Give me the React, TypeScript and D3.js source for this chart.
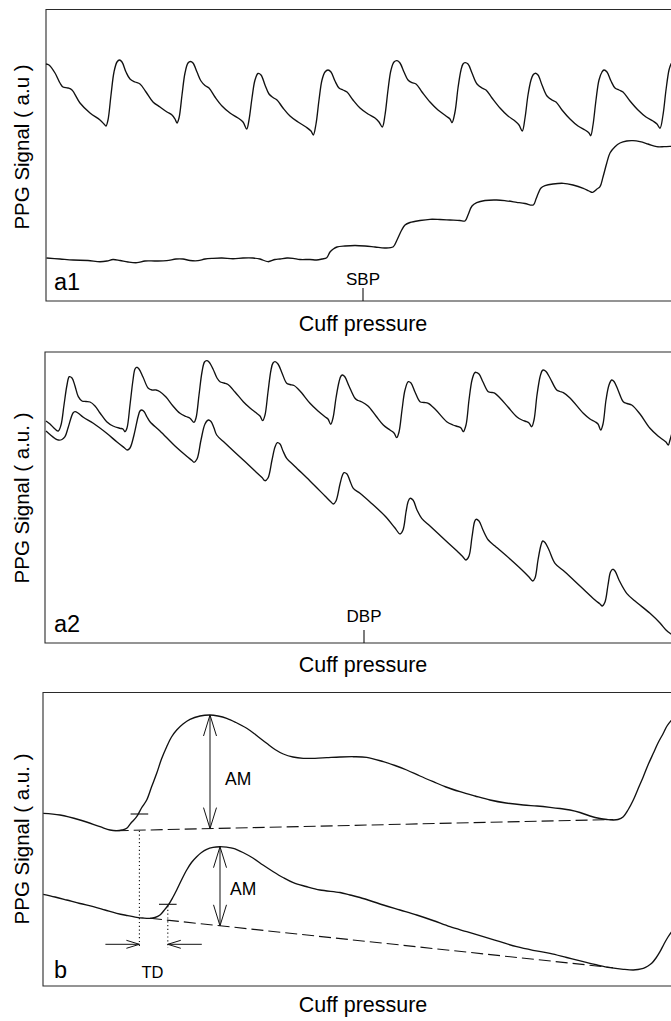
import React from 'react';
import * as d3 from 'd3';

type Pt = [number, number];

// Horizontal unit: cuff-pressure axis (a.u.), vertical unit: PPG amplitude (a.u.).

// Panel a1 — pulsatile PPG above SBP region and the DC-shifted trace
const a1Upper: Pt[] = [
  [0, 237], [3, 236], [9, 228], [14, 218], [17, 214], [22, 213], [26, 211], [34, 198], [44, 188], [54, 181], [58, 177], [60, 175],
  [62, 181], [65, 206], [68, 229], [71, 239], [73.5, 241], [76, 239], [80, 229], [84, 222], [89, 219], [94, 217], [100, 209], [107, 199],
  [114, 194], [121, 189], [126, 186], [129, 182], [131, 178], [133, 183], [136, 206], [139, 228], [142, 238], [144.5, 239.5], [147, 238],
  [151, 229], [155, 220], [159, 215.5], [163, 213], [169, 204], [176, 195], [184, 188], [192, 183], [197, 179], [200.7, 172], [203, 181],
  [206, 203], [209, 221], [212, 227.5], [215, 226], [219, 216], [223, 207], [227, 203.5], [231, 201], [237, 193], [244, 185], [252, 179],
  [260, 174], [265, 170], [267.3, 166], [270, 177], [273, 201], [276, 221], [279, 229], [282, 231], [285, 229], [289, 220], [293, 213],
  [297, 211], [301, 209], [307, 201], [314, 193], [322, 187], [329, 183], [333, 179], [336.3, 174], [339, 186], [342, 211], [345, 231],
  [348, 239], [351, 240.3], [354, 238], [358, 229], [362, 221], [366, 218.3], [370, 217], [376, 209], [384, 199], [392, 191], [400, 185],
  [404, 182], [406, 178.3], [409, 189], [412, 213], [415, 231], [417, 237], [419, 238.3], [422, 237], [426, 228], [431, 217], [436, 213],
  [440, 211], [446, 203], [454, 193], [462, 185], [469, 180], [473, 176], [476.3, 170], [479, 183], [482, 206], [485, 221], [487, 226],
  [489, 227.7], [492, 226], [496, 216], [501, 205], [506, 201], [510, 199], [516, 191], [524, 182], [532, 175], [539, 171], [543, 168],
  [544.7, 165.3], [547, 176], [550, 201], [553, 221], [556, 229], [558, 231], [561, 229], [565, 220], [569, 213], [573, 211], [577, 209],
  [584, 200], [592, 191], [600, 184], [607, 180], [611, 177], [614, 172.7], [617, 186], [620, 211], [623, 231], [625, 237], [628, 241],
];

const a1Lower: Pt[] = [
  [0.5, 43], [14, 42], [27, 41], [42, 40.5], [54, 39.3], [61, 40], [67, 41.5], [74, 40.5], [82, 39], [91, 38.3], [99, 40], [109, 40],
  [120.7, 40.3], [130, 42], [137, 42], [144, 40.5], [152, 40.3], [159, 42], [167, 42.7], [176, 43], [187, 42.3], [197, 43], [207, 43],
  [214, 42], [222, 39.3], [229, 41.5], [234, 42], [241, 43], [247, 42.7], [254, 41.5], [264, 41.5], [270.7, 41], [276, 42], [280.7, 43.3],
  [284, 49], [287.3, 52], [291, 54], [299, 55], [309, 55.5], [319, 55], [329, 54], [339, 53], [347.3, 54.3], [351, 61], [355.7, 71],
  [359, 76], [364, 78.5], [374, 80.5], [384, 81.7], [394, 81.5], [404, 81], [414, 80.5], [419, 80], [422, 86], [426, 95], [430.7, 98.3],
  [439, 100.5], [450.7, 101], [460, 100.2], [470.7, 98.7], [479, 97.5], [487.3, 96], [490, 102], [492.3, 107.7], [495, 113], [499, 115.3],
  [507, 117], [517.3, 117.7], [527, 116], [537.3, 112.7], [543, 110], [546.7, 108.7], [551, 112], [554, 114.3], [557, 124], [560.7, 137.7],
  [564, 148], [569, 154.3], [574, 158], [580.7, 160], [587, 160.3], [594, 159.3], [602, 157], [610.7, 154.3], [618, 154.3], [625, 154.7],
  [629, 155],
];

// Panel a2 — pulses around DBP
const a2Upper: Pt[] = [
  [1, 222], [5, 219], [10, 214], [13.3, 212], [16, 218], [19, 238], [22, 258], [24.3, 266.3], [27, 265], [30, 257], [33.3, 246.3],
  [37, 242], [41, 241.5], [45, 241], [50, 237], [55, 230], [61.7, 221.3], [68, 217], [75, 214.7], [78, 214], [80, 211.3], [82, 215],
  [85, 238], [88, 263], [90, 274], [91.7, 275.7], [94, 274], [98, 266], [103.3, 254.7], [107, 253], [111, 253], [115, 251.3], [121, 246],
  [128, 237], [135, 229.7], [141, 226.5], [145, 224.7], [149, 220.7], [151, 225], [154, 248], [157, 271], [159.5, 281], [161.7, 282.3],
  [164, 281], [168, 274], [172, 265], [175, 261.3], [179, 260], [183, 258.5], [190, 251], [198.3, 241.3], [205, 235], [211.7, 229.7],
  [215, 227], [217.7, 222.3], [220, 228], [223, 251], [226, 273], [228, 280], [230, 281.3], [233, 279], [237, 270], [241.7, 259.7],
  [245, 258.5], [249, 257.5], [255, 252], [265, 239.7], [273, 232], [280, 226.3], [283, 224], [285.7, 218.7], [288, 225], [291, 245],
  [294, 261], [296, 267], [297.7, 268], [300, 266], [304, 257], [310, 244.7], [313, 242.5], [317, 241], [323, 237], [331, 227], [338.3, 218],
  [345, 213], [349, 210], [351.7, 205.3], [354, 211], [357, 233], [360, 253], [363.3, 261.3], [366, 260], [370, 251], [375, 241.3],
  [379, 240.5], [383.3, 239.7], [390, 234], [401.7, 221.3], [408, 218], [413.3, 216.3], [416, 215], [418.3, 211.3], [421, 218], [424, 243],
  [427, 263], [429.5, 270], [431, 270.7], [434, 269], [438, 261], [443.3, 251.3], [447, 250.5], [450, 249.7], [455, 245], [463, 236],
  [471.7, 226.3], [477, 223], [481.7, 221.3], [484, 220], [486.7, 216.3], [489, 223], [492, 248], [495, 266], [497, 272], [498.3, 273],
  [501, 271.5], [505, 265], [511.7, 253], [515, 251.5], [518.3, 250.3], [525, 245], [538.3, 229.7], [545, 224], [550, 221.3], [553, 219],
  [555.7, 213], [558, 219], [561, 243], [564, 258], [566.7, 263], [569, 261.5], [573, 253], [578.3, 241.3], [582, 239.5], [586.7, 238],
  [595, 229], [605, 214.7], [613, 207], [618.3, 203], [621, 201], [623.3, 198], [625, 203], [627, 210],
];

const a2Lower: Pt[] = [
  [1, 212], [5, 208.5], [10, 204.5], [13.3, 203], [17, 203.5], [20, 206.3], [23, 215], [26, 225], [28, 230], [30, 231.3], [33, 230],
  [38.3, 225.7], [48.3, 219.7], [61.7, 209.7], [72, 201], [79, 195.5], [82.3, 193], [85, 195], [89, 208], [93, 226], [95, 232], [96.7, 233],
  [99, 231.5], [102, 226], [105, 221.3], [115, 212], [130, 197], [142, 186.5], [147, 182.5], [149, 180.7], [152, 184], [156, 203],
  [160, 219], [163.3, 223], [166, 221.5], [169, 215], [171.7, 208], [180, 200], [195, 186], [210, 172], [217, 165.5], [220, 162.3],
  [223, 165], [227, 183], [230, 196], [232.3, 200.3], [235, 199], [238, 192], [241.7, 184.7], [250, 176.5], [265, 162], [280, 147],
  [286, 141], [288.3, 139], [291, 142], [295, 159], [297.5, 168], [299, 170.3], [302, 169], [305, 162], [308.3, 154.7], [315, 149.7],
  [325, 141], [340, 127], [350, 115], [355, 109], [358, 113], [361, 131], [363, 141], [365, 144.7], [368, 143], [372, 133], [376.7, 124.7],
  [385, 117], [400, 103], [413, 91], [418, 86], [421, 83], [424, 87], [427, 106], [429.5, 121], [431, 123.7], [434, 122], [438, 113],
  [443.3, 103], [450, 97], [465, 84], [477, 73], [484, 66], [487.7, 62], [490, 65], [493, 83], [496, 98], [497.7, 102], [500, 100.5],
  [504, 93], [510, 79.7], [520, 71], [535, 57], [550, 43], [555, 39], [557.3, 37], [560, 41], [563, 58], [565.5, 71], [567.7, 73.7],
  [570, 72], [574, 63], [581.7, 49.7], [590, 42], [605, 29.7], [615, 20], [621, 13], [625, 9.7], [628, 8],
];

// Panel b — a single beat of each trace, enlarged
const bUpper: Pt[] = [
  [0.3, 172.7], [17, 171], [37, 166], [57, 159.3], [67, 156], [73.7, 155.3], [79, 156], [83.7, 157.7], [88, 163], [93.7, 169.3],
  [98.5, 178], [103.7, 186], [108.5, 199], [113.7, 212.7], [118.5, 227], [123.7, 239.3], [128.5, 249], [133.7, 256], [140, 262],
  [147, 266.7], [157, 270], [167, 271], [175, 270], [183.7, 267.7], [193, 263.5], [203.7, 257.7], [213, 251], [223.7, 242.7],
  [232, 236.5], [240.3, 232], [250, 229], [260.3, 227.7], [272, 227.7], [283.7, 228.3], [297, 229], [310.3, 229.3], [323.7, 228.7],
  [340.3, 224.3], [352, 220.5], [363.7, 216], [377, 210], [390.3, 204.3], [403, 199], [417, 194.3], [432, 190], [447, 186], [463, 183],
  [480.3, 181], [494, 180], [507, 178.7], [517, 177.5], [527, 176], [537, 173.5], [547, 170], [557, 167.5], [564, 166.5], [570.3, 166],
  [575, 166.5], [580.3, 169.3], [585, 176], [590.3, 186], [595, 197], [600.3, 209.3], [605, 221], [610.3, 232.7], [615, 243],
  [620.3, 252.7], [624, 260], [628.7, 266],
];

const bLower: Pt[] = [
  [0.3, 91.7], [12, 89], [23.7, 86], [37, 82.5], [50.3, 79.3], [62, 76], [73.7, 72.7], [84, 70.5], [93.7, 68.7], [100, 68], [107, 67.7],
  [112, 68.5], [117, 71], [121, 75.5], [125.3, 81], [129.5, 88], [133.7, 96], [138.5, 106], [143.7, 116], [148.5, 123.5], [153.7, 129.3],
  [158.5, 133.5], [163.7, 136.7], [170, 138.7], [177, 139.3], [183.7, 138.8], [190.3, 137.7], [200, 133.5], [210.3, 127.7], [220, 121],
  [230.3, 114.3], [240, 108.5], [250.3, 103.3], [263, 99.5], [277, 96], [297, 93.5], [307, 91], [317, 88.5], [340.3, 81], [357, 76],
  [373.7, 71], [390, 65.5], [407, 59.3], [423.7, 54.3], [440.3, 49.3], [457, 44.3], [473.7, 39.3], [490, 35.7], [507, 32.7], [523.7, 28.5],
  [540.3, 24.3], [554, 21], [567, 18.3], [580.3, 16.7], [590.3, 16], [595, 16.5], [600.3, 17.7], [605, 20], [608.7, 22.7], [613, 28],
  [617, 34.3], [621, 42], [625, 49], [628.7, 54.3],
];

// Foot-to-foot baselines and amplitude (AM) / transit-delay (TD) markers in panel b
const bUpperBaseline: Pt[] = [[73.7, 155.3], [570.3, 166.5]];
const bLowerBaseline: Pt[] = [[107, 67.7], [570, 18.3]];
const amUpper = { x: 167, peak: 271, foot: 157.4, labelX: 182, labelY: 201 };
const amLower = { x: 177, peak: 139.3, foot: 60.2, labelX: 187, labelY: 91 };
const tdMarks = [
  { x: 96.4, level: 172, dotFrom: 155.3 },
  { x: 124.8, level: 81.7, dotFrom: 80 },
];
const tdArrowLevel = 41.7;
const tdDotTo = 38;
const tdLabel = { x: 109.5, y: 8 };

// Reference pressure markers in panels a1 / a2
const pressureMarks = [
  { panel: 'a1', text: 'SBP', x: 317, textY: 16 },
  { panel: 'a2', text: 'DBP', x: 319, textY: 21 },
];

const FONT = "'Liberation Sans', Arial, Helvetica, sans-serif";
const INK = '#111';

const panels = [
  { id: 'a1', yTitle: 'PPG Signal ( a.u )', left: 46, top: 9.5, bottom: 301, yTitleY: 147, xTitleY: 331, labelY: 11, traces: [a1Upper, a1Lower] },
  { id: 'a2', yTitle: 'PPG Signal ( a.u. )', left: 45, top: 352, bottom: 643, yTitleY: 498, xTitleY: 671.5, labelY: 11, traces: [a2Upper, a2Lower] },
  { id: 'b', yTitle: 'PPG Signal ( a.u. )', left: 43, top: 692.5, bottom: 986, yTitleY: 839, xTitleY: 1012, labelY: 8, traces: [bUpper, bLower] },
];

function openHead(tx: number, ty: number, dx: number, dy: number, len: number, half: number) {
  const n = Math.hypot(dx, dy);
  const ux = dx / n, uy = dy / n;
  const bx = tx - ux * len, by = ty - uy * len;
  const px = -uy * half, py = ux * half;
  return `M${bx + px},${by + py}L${tx},${ty}L${bx - px},${by - py}`;
}

function Panel({ p }: { p: typeof panels[number] }) {
  const x = d3.scaleLinear().domain([0, 630]).range([p.left, p.left + 630]);
  const y = d3.scaleLinear().domain([0, p.bottom - p.top]).range([p.bottom, p.top]);
  const line = d3.line<Pt>().x((d) => x(d[0])).y((d) => y(d[1])).curve(d3.curveCatmullRom.alpha(0.5));
  const straight = d3.line<Pt>().x((d) => x(d[0])).y((d) => y(d[1]));
  const mark = pressureMarks.find((m) => m.panel === p.id);

  return (
    <g>
      <path
        d={`M${p.left + 700},${p.top}H${p.left}V${p.bottom}H${p.left + 700}`}
        fill="none"
        stroke="#2a2a2a"
        strokeWidth={1.1}
      />
      {p.traces.map((t, i) => (
        <path key={i} d={line(t) || ''} fill="none" stroke={INK} strokeWidth={1.35} strokeLinejoin="round" />
      ))}
      <text
        transform={`translate(29,${p.yTitleY}) rotate(-90)`}
        textAnchor="middle"
        fontFamily={FONT}
        fontSize={20.5}
        fill="#000"
      >
        {p.yTitle}
      </text>
      <text x={363} y={p.xTitleY} textAnchor="middle" fontFamily={FONT} fontSize={21.5} fill="#000">
        Cuff pressure
      </text>
      <text x={54} y={y(p.labelY)} fontFamily={FONT} fontSize={23.5} fill="#000">
        {p.id}
      </text>
      {mark && (
        <g>
          <line x1={x(mark.x)} x2={x(mark.x)} y1={y(0)} y2={y(13)} stroke={INK} strokeWidth={1.1} />
          <text x={x(mark.x)} y={y(mark.textY)} textAnchor="middle" fontFamily={FONT} fontSize={17} fill="#000">
            {mark.text}
          </text>
        </g>
      )}
      {p.id === 'b' && (
        <g>
          {[bUpperBaseline, bLowerBaseline].map((b, i) => (
            <path key={i} d={straight(b) || ''} fill="none" stroke={INK} strokeWidth={1.1} strokeDasharray="12,5" />
          ))}
          {[amUpper, amLower].map((a, i) => (
            <g key={i} fill="none" stroke={INK} strokeWidth={1}>
              <line x1={x(a.x)} x2={x(a.x)} y1={y(a.peak)} y2={y(a.foot)} />
              <path d={openHead(x(a.x), y(a.peak), 0, -1, 21, 6.5)} />
              <path d={openHead(x(a.x), y(a.foot), 0, 1, 21, 6.5)} />
            </g>
          ))}
          {[amUpper, amLower].map((a, i) => (
            <text key={i} x={x(a.labelX)} y={y(a.labelY)} fontFamily={FONT} fontSize={17.5} fill="#000">
              AM
            </text>
          ))}
          {tdMarks.map((m, i) => (
            <g key={i} stroke={INK} fill="none">
              <line x1={x(m.x - 8.8)} x2={x(m.x + 8.8)} y1={y(m.level)} y2={y(m.level)} strokeWidth={1.1} />
              <line x1={x(m.x)} x2={x(m.x)} y1={y(m.dotFrom)} y2={y(tdDotTo)} strokeWidth={1.1} strokeDasharray="1.2,2.6" />
            </g>
          ))}
          <g fill="none" stroke={INK} strokeWidth={1}>
            <line x1={x(tdMarks[0].x - 34)} x2={x(tdMarks[0].x)} y1={y(tdArrowLevel)} y2={y(tdArrowLevel)} />
            <path d={openHead(x(tdMarks[0].x), y(tdArrowLevel), 1, 0, 13, 4)} />
            <line x1={x(tdMarks[1].x + 34)} x2={x(tdMarks[1].x)} y1={y(tdArrowLevel)} y2={y(tdArrowLevel)} />
            <path d={openHead(x(tdMarks[1].x), y(tdArrowLevel), -1, 0, 13, 4)} />
          </g>
          <text x={x(tdLabel.x)} y={y(tdLabel.y)} textAnchor="middle" fontFamily={FONT} fontSize={16.5} fill="#000">
            TD
          </text>
        </g>
      )}
    </g>
  );
}

export default function App() {
  return (
    <div style={{ position: 'absolute', left: 0, top: 0 }}>
      <svg width={671} height={1021} style={{ display: 'block', background: '#fff' }}>
        {panels.map((p) => (
          <Panel key={p.id} p={p} />
        ))}
      </svg>
    </div>
  );
}
